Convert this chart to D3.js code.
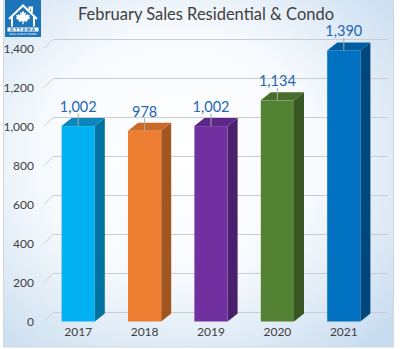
<!DOCTYPE html>
<html><head><meta charset="utf-8">
<script src="https://cdn.jsdelivr.net/npm/d3@7"></script>
<style>html,body{margin:0;padding:0;background:#fff;}svg{display:block;}</style>
</head><body>
<svg id="c" width="400" height="349"></svg>
<script>
const years = ["2017","2018","2019","2020","2021"];
const sales = [1002, 978, 1002, 1134, 1390];
const frontColors = ["#00b0f0","#ed7d31","#7030a0","#548235","#0070c0"];
const sideColors  = ["#00729f","#a2561f","#4a1f6c","#375623","#00477e"];
const topColors   = ["#0a86bc","#c86a28","#5c2787","#466d2c","#005ba0"];
const yTicks = [0,200,400,600,800,1000,1200,1400];
const title = "February Sales Residential & Condo";

const svg = d3.select("#c");
const defs = svg.append("defs");
const rg = defs.append("radialGradient").attr("id","bg").attr("cx","45%").attr("cy","45%").attr("r","72%");
rg.append("stop").attr("offset","0%").attr("stop-color","#ffffff");
rg.append("stop").attr("offset","50%").attr("stop-color","#f7fafd");
rg.append("stop").attr("offset","100%").attr("stop-color","#c9ddf0");

svg.append("rect").attr("x",3.5).attr("y",-1).attr("width",390).attr("height",348)
  .attr("fill","url(#bg)").attr("stroke","#d4d8dc").attr("stroke-width",1);

// scales
const x = d3.scaleBand().domain(years).range([45,377]).paddingInner(0.5).paddingOuter(0.25);
const y = d3.scaleLinear().domain([0,1400]).range([321.5,48.5]);
const gdx = 9, gdy = -9;   // wall offset
const bdx = 10, bdy = -8;  // bar depth
const font = "Lato, 'Open Sans', sans-serif";

// gridlines
const grid = svg.append("g");
yTicks.forEach(v => {
  const yy = y(v);
  grid.append("path").attr("d",`M44,${yy}L${44+gdx},${yy+gdy}L388,${yy+gdy}`)
    .attr("fill","none").attr("stroke","#c9ccd0").attr("stroke-width",1);
});

// y axis labels
const yAxis = d3.axisLeft(y).tickValues(yTicks).tickFormat(d3.format(",")).tickSize(0).tickPadding(0);
const ga = svg.append("g").attr("transform","translate(34,0)").call(yAxis);
ga.select(".domain").remove();
ga.selectAll("text").attr("font-family",font).attr("font-size",12).attr("fill","#404040");

// x axis labels
const xAxis = d3.axisBottom(x).tickSize(0).tickPadding(0);
const gx = svg.append("g").attr("transform","translate(0,327)").call(xAxis);
gx.select(".domain").remove();
gx.selectAll("text").attr("font-family",font).attr("font-size",12).attr("fill","#404040");

// bars
const bars = svg.append("g");
years.forEach((yr,i) => {
  const v = sales[i];
  const x0 = x(yr), x1 = x0 + x.bandwidth();
  const yt = y(v), yb = y(0);
  bars.append("path").attr("d",`M${x1},${yt}L${x1+bdx},${yt+bdy}L${x1+bdx},${yb+bdy}L${x1},${yb}Z`).attr("fill",sideColors[i]);
  bars.append("path").attr("d",`M${x0},${yt}L${x0+bdx},${yt+bdy}L${x1+bdx},${yt+bdy}L${x1},${yt}Z`).attr("fill",topColors[i]);
  bars.append("rect").attr("x",x0).attr("y",yt).attr("width",x.bandwidth()).attr("height",yb-yt).attr("fill",frontColors[i]);
  const cx = x0 + x.bandwidth()/2;
  bars.append("line").attr("x1",cx).attr("x2",cx).attr("y1",yt-12.5).attr("y2",yt).attr("stroke","#a9a9a9").attr("stroke-width",1);
  bars.append("text").attr("x",cx).attr("y",yt-14).attr("text-anchor","middle")
    .attr("font-family",font).attr("font-size",14.5).attr("fill","#2466b2").text(d3.format(",")(v));
});

// title
svg.append("text").attr("x",206).attr("y",19.5).attr("text-anchor","middle")
  .attr("font-family",font).attr("font-size",17).attr("fill","#404040")
  .attr("textLength",256).attr("lengthAdjust","spacingAndGlyphs").text(title);

// logo
const lg = svg.append("g");
lg.append("rect").attr("x",5).attr("y",0).attr("width",36).attr("height",37).attr("fill","#1d74b9");
lg.append("path").attr("d","M9,19L23,5.5L37,19 M12,17V26.5 M34,17V26.5 M29.5,10V7.5H32V12.5")
  .attr("fill","none").attr("stroke","#fff").attr("stroke-width",2);
lg.append("path").attr("d","M23,10.5L24.3,13L26,12.3L25.4,15.6L27.6,13.9L28.3,15.2L30,14.8L29.2,17.3L30.4,18L27,20.6L27.3,21.8L23.6,21.2V24.3H22.4V21.2L18.7,21.8L19,20.6L15.6,18L16.8,17.3L16,14.8L17.7,15.2L18.4,13.9L20.6,15.6L20,12.3L21.7,13Z").attr("fill","#fff");
lg.append("rect").attr("x",7.5).attr("y",27.5).attr("width",31).attr("height",4).attr("fill","#fff");
lg.append("text").attr("x",23).attr("y",31).attr("text-anchor","middle").attr("font-family","DejaVu Sans, sans-serif")
  .attr("font-weight","bold").attr("font-size",4.2).attr("letter-spacing",1).attr("fill","#1d74b9").text("OTTAWA");
lg.append("text").attr("x",23).attr("y",35).attr("text-anchor","middle").attr("font-family","DejaVu Sans, sans-serif")
  .attr("font-size",2.6).attr("fill","#fff").text("REAL ESTATE BOARD");
</script>
</body></html>
